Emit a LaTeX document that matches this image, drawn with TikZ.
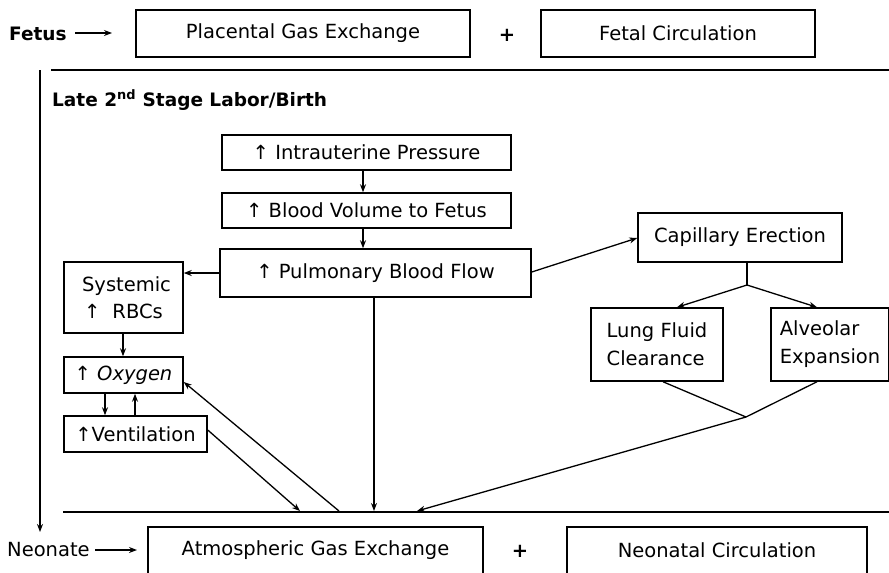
\documentclass[tikz,border=0pt]{standalone}
\usepackage{fontspec}
\setmainfont{DejaVu Sans}
\usetikzlibrary{arrows.meta}
\begin{document}
\begin{tikzpicture}[x=1pt,y=-1pt,
  box/.style={draw, line width=1.5pt, inner sep=0pt, font=\fontsize{19.5}{23}\selectfont},
  lbl/.style={inner sep=0pt, font=\fontsize{19.5}{23}\selectfont},
  hd/.style={inner sep=0pt, font=\fontsize{18.5}{22}\selectfont\bfseries},
  arr/.style={line width=1.3pt, -{Stealth[length=8pt,width=6pt]}},
  ln/.style={line width=1.3pt},
  rule/.style={line width=1.8pt}]
\clip (0,0) rectangle (889,573);
\fill[white] (0,0) rectangle (889,573);
% top row
\node[hd, anchor=west] (fetus) at (9,34) {Fetus};
\node[box, minimum width=334, minimum height=47] (peg) at (303,33.5) {Placental Gas Exchange};
\node[lbl] (plus1) at (507,35) {\bfseries +};
\node[box, minimum width=274, minimum height=47] (fc) at (678,33.5) {Fetal Circulation};
\coordinate (fa) at (75,33); \coordinate (fb) at (112,33);
\draw[arr] (fa) -- (fb);
% rules
\coordinate (tl) at (51,70); \coordinate (tr) at (889,70);
\draw[rule] (tl) -- (tr);
\coordinate (bl) at (63,512); \coordinate (br) at (889,512);
\draw[rule] (bl) -- (br);
\coordinate (vt) at (40,70); \coordinate (vb) at (40,532);
\draw[arr] (vt) -- (vb);
\node[hd, anchor=west] (late) at (52,100) {Late 2\textsuperscript{nd} Stage Labor/Birth};
% central chain
\node[box, minimum width=289, minimum height=35] (iup) at (366.5,152.5) {↑ Intrauterine Pressure};
\node[box, minimum width=289, minimum height=35] (bvf) at (366.5,210.5) {↑ Blood Volume to Fetus};
\node[box, minimum width=311, minimum height=48] (pbf) at (375.5,273) {↑ Pulmonary Blood Flow};
\draw[arr] (iup.south -| 363,0) -- (bvf.north -| 363,0);
\draw[arr] (bvf.south -| 363,0) -- (pbf.north -| 363,0);
% left column
\node[box, minimum width=119, minimum height=71, align=center] (rbc) at (123.5,297.5) {\hspace{6pt}Systemic\\[4pt]↑\hspace{12pt}RBCs\hspace{10pt}};
\node[box, minimum width=119, minimum height=36] (oxy) at (123.5,375) {↑ \itshape Oxygen\hspace{18pt}};
\node[box, minimum width=143, minimum height=36] (ven) at (135.5,434) {↑Ventilation\hspace{8pt}};
\draw[arr] (pbf.west |- 0,273) -- (rbc.east |- 0,273);
\draw[arr] (rbc.south -| 123,0) -- (oxy.north -| 123,0);
\draw[arr] (oxy.south -| 105,0) -- (ven.north -| 105,0);
\draw[arr] (ven.north -| 135,0) -- (oxy.south -| 135,0);
% bottom convergence points
\coordinate (p1) at (300,511);
\coordinate (p2) at (339,511);
\coordinate (p3) at (374,511);
\coordinate (p4) at (417,511);
\draw[arr] (ven.east |- 0,430) -- (p1);
\draw[arr] (p2) -- (oxy.east |- 0,382);
\draw[arr] (pbf.south -| 374,0) -- (p3);
% right side
\node[box, minimum width=204, minimum height=49] (cap) at (740,237.5) {Capillary Erection};
\draw[arr] (pbf.east |- 0,272) -- (cap.west |- 0,238);
\coordinate (cj) at (747,285);
\node[box, minimum width=132, minimum height=73, align=left] (lfc) at (657,344.5) {Lung Fluid\\[5pt]Clearance};
\node[box, minimum width=118, minimum height=73, align=left] (alv) at (830,344.5) {Alveolar\\[5pt]Expansion};
\draw[ln] (cap.south -| 747,0) -- (cj);
\draw[arr] (cj) -- (lfc.north -| 677,0);
\draw[arr] (cj) -- (alv.north -| 817,0);
\coordinate (mj) at (746,417);
\draw[ln] (lfc.south -| 663,0) -- (mj) -- (alv.south -| 817,0);
\draw[arr] (mj) -- (p4);
% bottom row
\node[lbl, anchor=west] (neo) at (7,550) {Neonate};
\node[box, minimum width=335, minimum height=60] (atm) at (315.5,557) {};
\node[lbl] (atmt) at (315.5,550) {Atmospheric Gas Exchange};
\node[lbl] (plus2) at (520,551) {\bfseries +};
\node[box, minimum width=300, minimum height=60] (ncb) at (717,557) {};
\node[lbl] (nct) at (717,550) {Neonatal Circulation};
\coordinate (na) at (95,550); \coordinate (nb) at (137,550);
\draw[arr] (na) -- (nb);
\end{tikzpicture}
\end{document}
